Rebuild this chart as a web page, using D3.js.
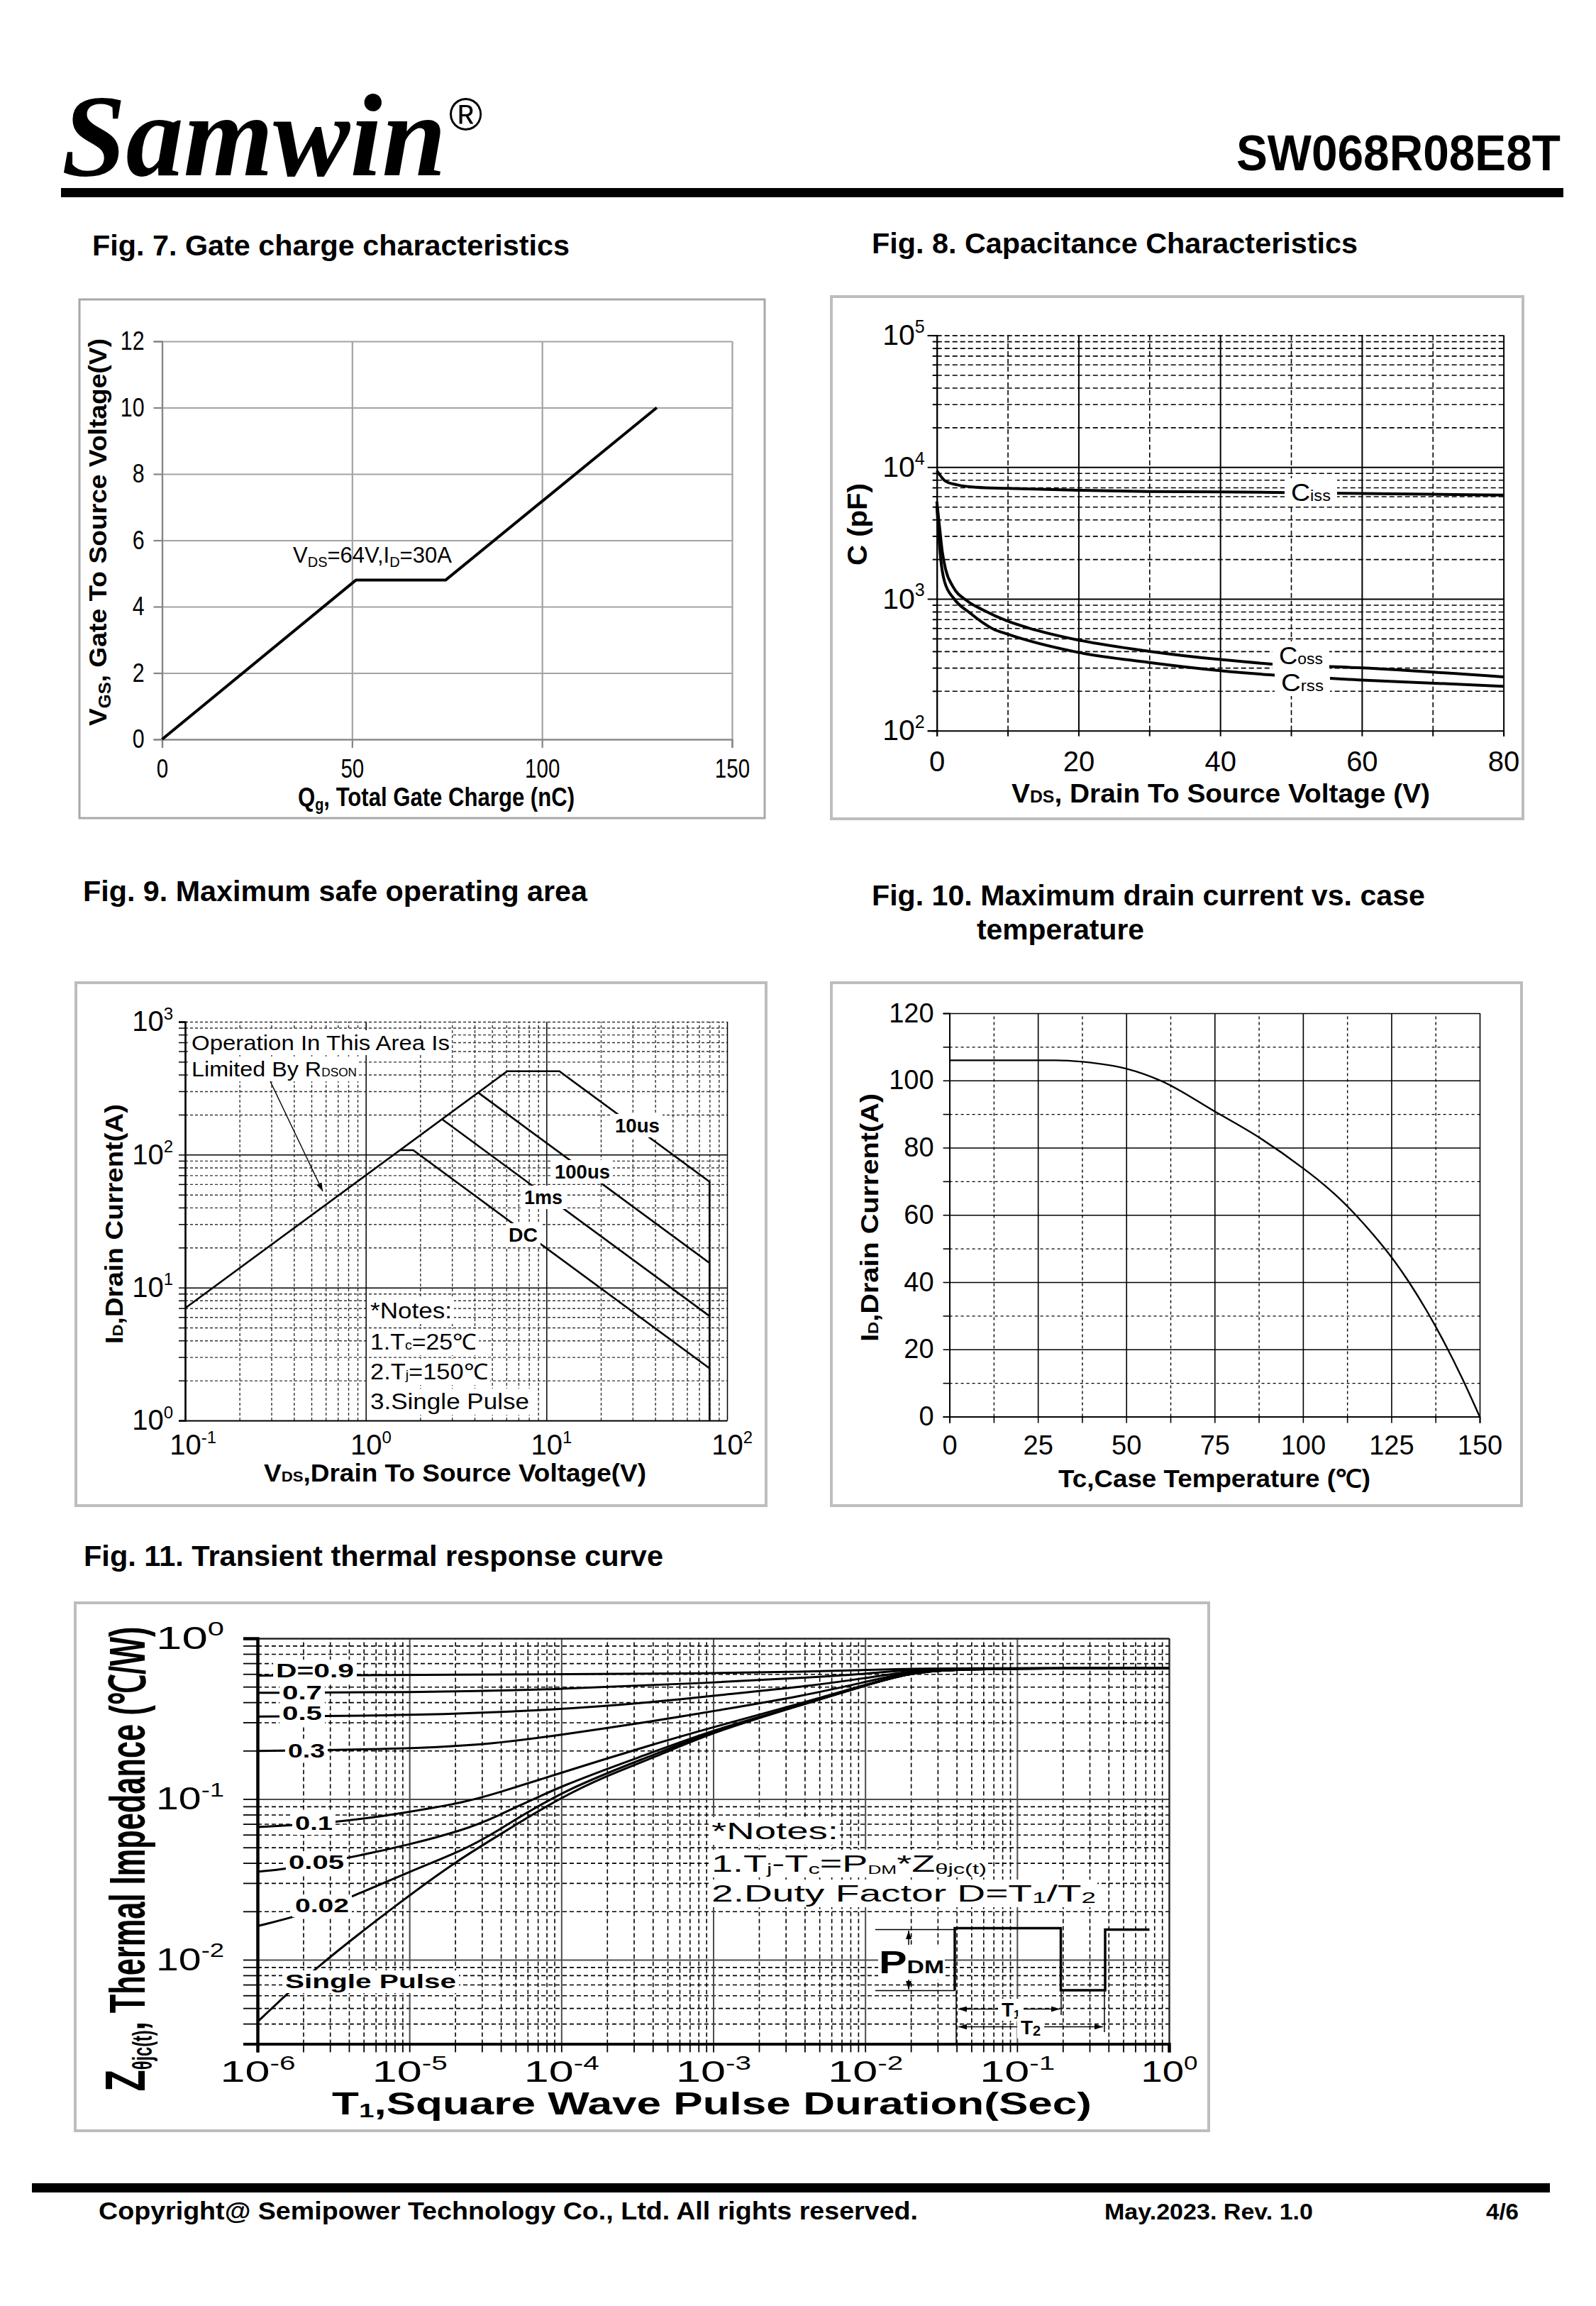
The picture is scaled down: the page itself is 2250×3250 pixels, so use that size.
<!DOCTYPE html>
<html>
<head>
<meta charset="utf-8">
<script src="https://cdn.jsdelivr.net/npm/d3@7/dist/d3.min.js"></script>
<style>
html,body{margin:0;padding:0;background:#fff;}
svg{display:block;}
text{font-family:"Liberation Sans",Arial,Helvetica,sans-serif;}
</style>
</head>
<body>
<svg id="page" width="2250" height="3250" xmlns="http://www.w3.org/2000/svg"></svg>
<script>
// ================= DATA =================
// Fig. 7 Gate charge
const qgTicks = [0, 50, 100, 150];
const vgsTicks = [0, 2, 4, 6, 8, 10, 12];
const qgValues = [0, 51, 74.6, 130.2];
const vgsValues = [0, 4.8, 4.8, 10];

// Fig. 8 Capacitance
const capVdsTicks = [0, 20, 40, 60, 80];
const capVdsMinor = [10, 30, 50, 70];
const capDecades = [100, 1000, 10000, 100000];
const cissV = [0, 1.26, 2.9, 5.6, 9.9, 19.8, 29.8, 39.8, 60, 80];
const cissC = [9400, 7800, 7330, 7035, 6890, 6670, 6530, 6490, 6300, 6140];
const cossV = [0, 0.43, 0.76, 1.27, 2.27, 4.27, 6.6, 9.88, 12.95, 19.8, 29.8, 39.8, 47, 60, 80];
const cossC = [5480, 3340, 2300, 1655, 1240, 967, 820, 681, 601, 489, 401, 347, 321, 299, 256];
const crssV = [0, 0.27, 0.54, 1.1, 2.44, 4.6, 8, 9.88, 19.8, 29.8, 39.8, 47, 60, 80];
const crssC = [5060, 3080, 2035, 1347, 1000, 787, 589, 542, 394, 330, 286, 265, 242, 217];

// Fig. 9 Safe operating area
const soaXDecades = [0.1, 1, 10, 100];
const soaYDecades = [1, 10, 100, 1000];
const soa10usV = [0.1, 6.06, 11.8, 80, 80];
const soa10usI = [7, 424, 424, 62.5, 1];
const soa100usV = [4.19, 80];
const soa100usI = [293, 15.3];
const soa1msV = [2.64, 80];
const soa1msI = [185, 6.1];
const soaDcV = [1.54, 1.83, 80];
const soaDcI = [108, 108, 2.47];

// Fig. 10 Drain current vs case temperature
const tcTicks = [0, 25, 50, 75, 100, 125, 150];
const idTicks = [0, 20, 40, 60, 80, 100, 120];
const tcValues = [0, 30, 40, 50, 60, 75, 87.5, 100, 105, 110, 115, 120, 125, 130, 135, 140, 145, 150];
const idValues = [106, 106, 105.3, 103.5, 99.8, 90.8, 83.1, 73.9, 69.8, 65.2, 59.9, 54.0, 47.5, 40.0, 31.5, 22.0, 11.5, 0];

// Fig. 11 Transient thermal response
const zthXDecades = [1e-6, 1e-5, 1e-4, 1e-3, 1e-2, 1e-1, 1];
const zthYDecades = [0.01, 0.1, 1];
const zthD09T = [1e-6, 1e-4, 1e-3, 4e-3, 1e-2, 1.85e-2, 3.5e-2, 1];
const zthD09Z = [0.586, 0.597, 0.606, 0.62, 0.635, 0.645, 0.652, 0.652];
const zthD07T = [1e-6, 1e-5, 1e-4, 1e-3, 4e-3, 1e-2, 1.85e-2, 3.5e-2, 1];
const zthD07Z = [0.458, 0.46, 0.481, 0.53, 0.569, 0.60, 0.635, 0.65, 0.652];
const zthD05T = [1e-6, 1e-5, 1e-4, 4e-4, 1e-3, 4e-3, 1e-2, 1.85e-2, 3.5e-2, 1];
const zthD05Z = [0.326, 0.33, 0.36, 0.40, 0.44, 0.50, 0.565, 0.62, 0.65, 0.652];
const zthD03T = [1e-6, 1e-5, 3.6e-5, 1e-4, 4e-4, 1e-3, 4e-3, 1e-2, 1.85e-2, 3.5e-2, 1];
const zthD03Z = [0.199, 0.205, 0.22, 0.251, 0.305, 0.352, 0.44, 0.535, 0.61, 0.65, 0.652];
const zthD01T = [1e-6, 3.3e-6, 1e-5, 2.25e-5, 3.6e-5, 1e-4, 4e-4, 1e-3, 4e-3, 1e-2, 1.85e-2, 3.5e-2, 1];
const zthD01Z = [0.067, 0.071, 0.083, 0.095, 0.107, 0.146, 0.219, 0.28, 0.40, 0.515, 0.60, 0.65, 0.652];
const zthD005T = [1e-6, 1.53e-6, 3.9e-6, 1e-5, 2.25e-5, 3.6e-5, 1e-4, 4e-4, 1e-3, 4e-3, 1e-2, 1.85e-2, 3.5e-2, 1];
const zthD005Z = [0.0353, 0.0365, 0.0428, 0.052, 0.064, 0.076, 0.122, 0.195, 0.27, 0.39, 0.51, 0.60, 0.65, 0.652];
const zthD002T = [1e-6, 1.95e-6, 4.3e-6, 1e-5, 2.25e-5, 3.6e-5, 1e-4, 4e-4, 1e-3, 4e-3, 1e-2, 1.85e-2, 3.5e-2, 1];
const zthD002Z = [0.0162, 0.0189, 0.0248, 0.0353, 0.048, 0.061, 0.113, 0.187, 0.266, 0.39, 0.51, 0.60, 0.65, 0.652];
const zthSingleT = [1e-6, 2.24e-6, 1e-5, 2.04e-5, 4e-5, 1e-4, 2e-4, 4e-4, 1e-3, 4e-3, 1e-2, 1.85e-2, 3.5e-2, 1];
const zthSingleZ = [0.0041, 0.0085, 0.0253, 0.041, 0.0607, 0.103, 0.14, 0.18, 0.262, 0.39, 0.51, 0.60, 0.65, 0.652];

// ================= HELPERS =================
const svg = d3.select('#page');
svg.append('rect').attr('width', 2250).attr('height', 3250).attr('fill', '#fff');
const defs = svg.append('defs');
defs.append('marker').attr('id', 'arr').attr('viewBox', '0 0 12 8').attr('refX', 12).attr('refY', 4)
  .attr('markerWidth', 12).attr('markerHeight', 8).attr('markerUnits', 'userSpaceOnUse')
  .attr('orient', 'auto-start-reverse')
  .append('path').attr('d', 'M0,0L12,4L0,8Z').attr('fill', '#000');

function addText(g, x, y, parts, o = {}) {
  const t = g.append('text')
    .attr('x', x).attr('y', y)
    .attr('font-size', o.size || 30)
    .attr('font-weight', o.weight || 'normal')
    .attr('text-anchor', o.anchor || 'start')
    .attr('fill', '#000');
  if (o.family) t.style('font-family', o.family);
  if (o.italic) t.attr('font-style', 'italic');
  if (o.transform) t.attr('transform', o.transform);
  if (typeof parts === 'string') parts = [[parts]];
  let cur = 0;
  parts.forEach(p => {
    const s = p[0], q = p[1] || {};
    const sp = t.append('tspan').text(s);
    if (q.size) sp.attr('font-size', q.size);
    if (q.weight) sp.attr('font-weight', q.weight);
    const want = q.dy || 0;
    if (want !== cur) { sp.attr('dy', want - cur); cur = want; }
  });
  if (o.width) t.attr('textLength', o.width).attr('lengthAdjust', 'spacingAndGlyphs');
  else if (o.sx) {
    const L = t.node().getComputedTextLength();
    t.attr('textLength', L * o.sx).attr('lengthAdjust', 'spacingAndGlyphs');
  }
  return t;
}
function whiteBehind(g, t, px = 4, py = 2) {
  const b = t.node().getBBox();
  g.insert('rect', () => t.node())
    .attr('x', b.x - px).attr('y', b.y - py)
    .attr('width', b.width + 2 * px).attr('height', b.height + 2 * py)
    .attr('fill', '#fff');
}
function frame(x, y, w, h, stroke, sw) {
  svg.append('rect').attr('x', x).attr('y', y).attr('width', w).attr('height', h)
    .attr('fill', 'none').attr('stroke', stroke).attr('stroke-width', sw);
}
function lineStyle(s, st) {
  s.selectAll('.tick line').attr('stroke', st.stroke).attr('stroke-width', st.sw)
    .attr('stroke-dasharray', st.dash || null);
}
function gridH(g, y, vals, x0, x1, st) {
  g.append('g').attr('transform', `translate(${x0},0)`)
    .call(d3.axisLeft(y).tickValues(vals).tickSize(-(x1 - x0)).tickFormat(''))
    .call(s => { s.select('.domain').remove(); lineStyle(s, st); });
}
function gridV(g, x, vals, y0, y1, st) {
  g.append('g').attr('transform', `translate(0,${y0})`)
    .call(d3.axisBottom(x).tickValues(vals).tickSize(-(y0 - y1)).tickFormat(''))
    .call(s => { s.select('.domain').remove(); lineStyle(s, st); });
}
function styleAxis(s, o) {
  s.selectAll('.tick line').attr('stroke', o.stroke || '#000').attr('stroke-width', o.sw || 2);
  const d = s.select('.domain');
  if (o.domain === false) d.remove();
  else d.attr('stroke', o.stroke || '#000').attr('stroke-width', o.dsw || o.sw || 2);
  s.selectAll('.tick text').attr('font-size', o.fs || 30).attr('fill', '#000');
  if (o.sx) s.selectAll('.tick text').each(function () {
    const L = this.getComputedTextLength();
    if (L > 0) d3.select(this).attr('textLength', L * o.sx).attr('lengthAdjust', 'spacingAndGlyphs');
  });
  return s;
}
function logLabels(s, fs, supFs, o = {}) {
  s.selectAll('.tick text').each(function (d) {
    const t = d3.select(this);
    const e = Math.round(Math.log10(d));
    t.text(null).attr('font-size', fs);
    t.append('tspan').text('10');
    t.append('tspan').text(String(e)).attr('font-size', supFs).attr('dy', -fs * 0.42);
    if (o.width) {
      const w = typeof o.width === 'function' ? o.width(e) : o.width;
      t.attr('textLength', w).attr('lengthAdjust', 'spacingAndGlyphs');
    }
    if (o.center10) {
      t.attr('text-anchor', 'start');
      const w = this.getSubStringLength(0, 2);
      t.attr('x', -w / 2);
    }
  });
}
function decadeMinors(decs) {
  const out = [];
  decs.forEach(d => { for (let m = 2; m <= 9; m++) out.push(+(m * d).toPrecision(4)); });
  return out;
}

// ================= HEADER / FOOTER =================
addText(svg, 87, 247, 'Samwin', { size: 165, weight: 'bold', italic: true, family: '"Liberation Serif","Times New Roman",serif', width: 542 });
addText(svg, 633, 183, '\u00AE', { size: 64 });
addText(svg, 2200, 240, 'SW068R08E8T', { size: 70, weight: 'bold', anchor: 'end', width: 457 });
svg.append('rect').attr('x', 86).attr('y', 265).attr('width', 2118).attr('height', 13).attr('fill', '#000');

svg.append('rect').attr('x', 45).attr('y', 3077).attr('width', 2140).attr('height', 13).attr('fill', '#000');
addText(svg, 139, 3128, 'Copyright@ Semipower Technology Co., Ltd. All rights reserved.', { size: 35, weight: 'bold', width: 1155 });
addText(svg, 1557, 3128, 'May.2023. Rev. 1.0', { size: 32, weight: 'bold', width: 294 });
addText(svg, 2095, 3128, '4/6', { size: 32, weight: 'bold', width: 46 });

addText(svg, 130, 360, 'Fig. 7. Gate charge characteristics', { size: 40, weight: 'bold', width: 673 });
addText(svg, 1229, 357, 'Fig. 8. Capacitance Characteristics', { size: 40, weight: 'bold', width: 685 });
addText(svg, 117, 1270, 'Fig. 9. Maximum safe operating area', { size: 40, weight: 'bold', width: 711 });
addText(svg, 1229, 1276, 'Fig. 10. Maximum drain current vs. case', { size: 40, weight: 'bold', width: 780 });
addText(svg, 1377, 1324, 'temperature', { size: 40, weight: 'bold', width: 236 });
addText(svg, 118, 2207, 'Fig. 11. Transient thermal response curve', { size: 40, weight: 'bold', width: 817 });

// ================= FIG 7 =================
{
  frame(112, 422, 966, 731, '#a8a8a8', 3);
  const g = svg.append('g');
  const X0 = 228.5, X1 = 1032, Y0 = 1042, Y1 = 481;
  const x = d3.scaleLinear().domain([0, 150]).range([X0, X1]);
  const y = d3.scaleLinear().domain([0, 12]).range([Y0, Y1]);
  const gs = { stroke: '#a3a3a3', sw: 2.2 };
  gridH(g, y, vgsTicks, X0, X1, gs);
  gridV(g, x, qgTicks, Y0, Y1, gs);
  styleAxis(g.append('g').attr('transform', `translate(${X0},0)`)
    .call(d3.axisLeft(y).tickValues(vgsTicks).tickSize(12).tickPadding(13)),
    { stroke: '#858585', sw: 2.2, fs: 37, sx: 0.82 });
  styleAxis(g.append('g').attr('transform', `translate(0,${Y0})`)
    .call(d3.axisBottom(x).tickValues(qgTicks).tickSize(12).tickPadding(16)),
    { stroke: '#858585', sw: 2.2, fs: 36, sx: 0.82 });
  g.append('path').datum(d3.zip(qgValues, vgsValues))
    .attr('d', d3.line().x(d => x(d[0])).y(d => y(d[1])))
    .attr('fill', 'none').attr('stroke', '#000').attr('stroke-width', 4).attr('stroke-linejoin', 'round');
  addText(g, 413, 793, [['V'], ['DS', { size: 20, dy: 6 }], ['=64V,I'], ['D', { size: 20, dy: 6 }], ['=30A']], { size: 31 });
  addText(g, 0, 0, [['V'], ['GS', { size: 24, dy: 6 }], [',  Gate To  Source Voltage(V)']],
    { size: 35, weight: 'bold', anchor: 'middle', transform: 'translate(150,750) rotate(-90)', width: 546 });
  addText(g, 420, 1136, [['Q'], ['g', { size: 23, dy: 6 }], [', Total Gate Charge (nC)']], { size: 36, weight: 'bold', width: 390 });
}

// ================= FIG 8 =================
{
  frame(1172, 418, 975, 736, '#bdbdbd', 4);
  const g = svg.append('g');
  const X0 = 1320.7, X1 = 2119.6, Y0 = 1029.7, Y1 = 472.6;
  const x = d3.scaleLinear().domain([0, 80]).range([X0, X1]);
  const y = d3.scaleLog().domain([100, 100000]).range([Y0, Y1]);
  const minorY = decadeMinors([100, 1000, 10000]).concat([100000]);
  const dash = { stroke: '#000', sw: 1.6, dash: '7,4' };
  gridH(g, y, minorY, X0, X1, dash);
  gridV(g, x, capVdsMinor, Y0, Y1, dash);
  gridH(g, y, [1000, 10000], X0, X1, { stroke: '#000', sw: 2 });
  gridV(g, x, capVdsTicks.slice(1), Y0, Y1, { stroke: '#000', sw: 2 });
  styleAxis(g.append('g').attr('transform', `translate(${X0},0)`)
    .call(d3.axisLeft(y).tickValues(minorY).tickSize(6).tickFormat('')), { sw: 2 });
  const ya = styleAxis(g.append('g').attr('transform', `translate(${X0},0)`)
    .call(d3.axisLeft(y).tickValues(capDecades).tickSize(13).tickPadding(4)), { sw: 2, fs: 41 });
  logLabels(ya, 41, 25);
  styleAxis(g.append('g').attr('transform', `translate(0,${Y0})`)
    .call(d3.axisBottom(x).tickValues(d3.range(0, 81, 10)).tickSize(8).tickPadding(21)
      .tickFormat(d => capVdsTicks.includes(d) ? String(d) : '')), { sw: 2, fs: 40 });
  const line = d3.line().x(d => x(d[0])).y(d => y(d[1])).curve(d3.curveMonotoneX);
  [[cissV, cissC], [cossV, cossC], [crssV, crssC]].forEach(([v, c]) => {
    g.append('path').datum(d3.zip(v, c)).attr('d', line)
      .attr('fill', 'none').attr('stroke', '#000').attr('stroke-width', 4);
  });
  const lab = [[1820, 706, 'iss', 56], [1803, 936, 'oss', 62], [1806, 974, 'rss', 60]];
  lab.forEach(([lx, ly, s, w]) => {
    const t = addText(g, lx, ly, [['C'], [s, { size: 22 }]], { size: 35, width: w });
    whiteBehind(g, t, 9, 0);
  });
  addText(g, 0, 0, 'C (pF)', { size: 38, weight: 'bold', anchor: 'middle', transform: 'translate(1222,739) rotate(-90)', width: 116 });
  addText(g, 1426, 1131, [['V'], ['DS', { size: 23 }], [', Drain To Source Voltage (V)']], { size: 36, weight: 'bold', width: 590 });
}

// ================= FIG 9 =================
{
  frame(107, 1385, 973, 737, '#bdbdbd', 4);
  const g = svg.append('g');
  const X0 = 261, X1 = 1025, Y0 = 2002, Y1 = 1440;
  const x = d3.scaleLog().domain([0.1, 100]).range([X0, X1]);
  const y = d3.scaleLog().domain([1, 1000]).range([Y0, Y1]);
  const minorX = decadeMinors([0.1, 1, 10]);
  const minorY = decadeMinors([1, 10, 100]).concat([1000]);
  const dash = { stroke: '#333', sw: 1.4, dash: '4,3' };
  gridH(g, y, minorY, X0, X1, dash);
  gridV(g, x, minorX, Y0, Y1, dash);
  gridH(g, y, [10, 100], X0, X1, { stroke: '#000', sw: 1.5 });
  gridV(g, x, [1, 10, 100], Y0, Y1, { stroke: '#000', sw: 1.5 });
  styleAxis(g.append('g').attr('transform', `translate(${X0},0)`)
    .call(d3.axisLeft(y).tickValues(minorY).tickSize(9).tickFormat('')), { sw: 1.5, dsw: 2.2 });
  const ya = styleAxis(g.append('g').attr('transform', `translate(${X0},0)`)
    .call(d3.axisLeft(y).tickValues(soaYDecades).tickSize(9).tickPadding(8)), { sw: 1.5, dsw: 2.2, fs: 40 });
  logLabels(ya, 40, 24);
  const xa = styleAxis(g.append('g').attr('transform', `translate(0,${Y0})`)
    .call(d3.axisBottom(x).tickValues(soaXDecades).tickSize(0).tickPadding(20)), { sw: 1.5, dsw: 2.2, fs: 40 });
  logLabels(xa, 40, 24, { center10: true });
  const line = d3.line().x(d => x(d[0])).y(d => y(d[1]));
  [[soa10usV, soa10usI], [soa100usV, soa100usI], [soa1msV, soa1msI], [soaDcV, soaDcI]].forEach(([v, i]) => {
    g.append('path').datum(d3.zip(v, i)).attr('d', line)
      .attr('fill', 'none').attr('stroke', '#000').attr('stroke-width', 2.6).attr('stroke-linejoin', 'round');
  });
  [[867, 1596, '10us', 63], [782, 1661, '100us', 78], [739, 1697, '1ms', 54], [717, 1750, 'DC', 41]].forEach(([lx, ly, s, w]) => {
    const t = addText(g, lx, ly, s, { size: 28, weight: 'bold', width: w });
    whiteBehind(g, t, 4, 1);
  });
  const o1 = addText(g, 270, 1480, 'Operation In This Area Is', { size: 30, width: 364 });
  whiteBehind(g, o1, 3, 1);
  const o2 = addText(g, 270, 1517, [['Limited By R'], ['DSON', { size: 16 }]], { size: 30, width: 233 });
  whiteBehind(g, o2, 3, 1);
  g.append('line').attr('x1', 381).attr('y1', 1524).attr('x2', 455).attr('y2', 1679)
    .attr('stroke', '#000').attr('stroke-width', 1.4).attr('marker-end', 'url(#arr)');
  const notes = [
    [1858, [['*Notes:']], 115],
    [1902, [['1.T'], ['c', { size: 18 }], ['=25\u2103']], 150],
    [1944, [['2.T'], ['j', { size: 18 }], ['=150\u2103']], 166],
    [1986, [['3.Single Pulse']], 224]
  ];
  notes.forEach(([ly, p, w]) => {
    const t = addText(g, 522, ly, p, { size: 31, width: w });
    whiteBehind(g, t, 3, 1);
  });
  addText(g, 0, 0, [['I'], ['D', { size: 21 }], [',Drain Current(A)']],
    { size: 35, weight: 'bold', anchor: 'middle', transform: 'translate(173,1725) rotate(-90)', width: 338 });
  addText(g, 372, 2088, [['V'], ['DS', { size: 21 }], [',Drain To Source Voltage(V)']], { size: 35, weight: 'bold', width: 539 });
}

// ================= FIG 10 =================
{
  frame(1172, 1385, 973, 737, '#bdbdbd', 4);
  const g = svg.append('g');
  const X0 = 1338.6, X1 = 2086, Y0 = 1996.5, Y1 = 1428;
  const x = d3.scaleLinear().domain([0, 150]).range([X0, X1]);
  const y = d3.scaleLinear().domain([0, 120]).range([Y0, Y1]);
  const minorX = tcTicks.slice(0, -1).map(d => d + 12.5);
  const minorY = idTicks.slice(0, -1).map(d => d + 10);
  const dash = { stroke: '#000', sw: 1.4, dash: '4,4' };
  gridH(g, y, minorY, X0, X1, dash);
  gridV(g, x, minorX, Y0, Y1, dash);
  gridH(g, y, idTicks, X0, X1, { stroke: '#000', sw: 1.6 });
  gridV(g, x, tcTicks, Y0, Y1, { stroke: '#000', sw: 1.6 });
  styleAxis(g.append('g').attr('transform', `translate(${X0},0)`)
    .call(d3.axisLeft(y).tickValues(minorY).tickSize(9).tickFormat('')), { sw: 1.6 });
  styleAxis(g.append('g').attr('transform', `translate(${X0},0)`)
    .call(d3.axisLeft(y).tickValues(idTicks).tickSize(9).tickPadding(13)), { sw: 1.6, fs: 38 });
  styleAxis(g.append('g').attr('transform', `translate(0,${Y0})`)
    .call(d3.axisBottom(x).tickValues(minorX).tickSize(9).tickFormat('')), { sw: 1.6 });
  styleAxis(g.append('g').attr('transform', `translate(0,${Y0})`)
    .call(d3.axisBottom(x).tickValues(tcTicks).tickSize(9).tickPadding(18)), { sw: 1.6, fs: 38 });
  g.append('path').datum(d3.zip(tcValues, idValues))
    .attr('d', d3.line().x(d => x(d[0])).y(d => y(d[1])).curve(d3.curveMonotoneX))
    .attr('fill', 'none').attr('stroke', '#000').attr('stroke-width', 2.4);
  addText(g, 0, 0, [['I'], ['D', { size: 21 }], [',Drain Current(A)']],
    { size: 35, weight: 'bold', anchor: 'middle', transform: 'translate(1238,1716) rotate(-90)', width: 350 });
  addText(g, 1492, 2096, 'Tc,Case Temperature (\u2103)', { size: 35, weight: 'bold', width: 440 });
}

// ================= FIG 11 =================
{
  frame(106, 2259, 1598, 744, '#bdbdbd', 4);
  const g = svg.append('g');
  const X0 = 363, X1 = 1648, Y0 = 2880.4, Y1 = 2309;
  const x = d3.scaleLog().domain([1e-6, 1]).range([X0, X1]);
  const y = d3.scaleLog().domain([0.003, 1]).range([Y0, Y1]);
  const minorX = decadeMinors([1e-6, 1e-5, 1e-4, 1e-3, 1e-2, 1e-1]);
  const minorY = [0.004, 0.005, 0.006, 0.007, 0.008, 0.009].concat(decadeMinors([0.01, 0.1]));
  const dash = { stroke: '#000', sw: 1.6, dash: '6,4' };
  gridH(g, y, minorY, X0, X1, dash);
  gridV(g, x, minorX, Y0, Y1, dash);
  gridH(g, y, [0.01, 0.1], X0, X1, { stroke: '#4d4d4d', sw: 2 });
  gridV(g, x, zthXDecades.slice(1, -1), Y0, Y1, { stroke: '#4d4d4d', sw: 2 });
  gridH(g, y, [1], X0, X1, { stroke: '#222', sw: 2.4 });
  gridV(g, x, [1], Y0, Y1, { stroke: '#222', sw: 2.4 });
  styleAxis(g.append('g').attr('transform', `translate(${X0},0)`)
    .call(d3.axisLeft(y).tickValues(minorY).tickSize(20).tickFormat('')), { sw: 1.8, dsw: 4 });
  const ya = styleAxis(g.append('g').attr('transform', `translate(${X0},0)`)
    .call(d3.axisLeft(y).tickValues(zthYDecades).tickSize(20).tickPadding(27)), { sw: 1.8, dsw: 4, fs: 44 });
  logLabels(ya, 44, 28, { width: 96 });
  styleAxis(g.append('g').attr('transform', `translate(0,${Y0})`)
    .call(d3.axisBottom(x).tickValues(minorX).tickSize(12).tickFormat('')), { sw: 1.8, dsw: 4 });
  const xa = styleAxis(g.append('g').attr('transform', `translate(0,${Y0})`)
    .call(d3.axisBottom(x).tickValues(zthXDecades).tickSize(12).tickPadding(12)), { sw: 1.8, dsw: 4, fs: 42 });
  logLabels(xa, 42, 27, { width: e => e === 0 ? 80 : 106 });

  const line = d3.line().x(d => x(d[0])).y(d => y(d[1])).curve(d3.curveBasis);
  [[zthD09T, zthD09Z], [zthD07T, zthD07Z], [zthD05T, zthD05Z], [zthD03T, zthD03Z], [zthD01T, zthD01Z],
   [zthD005T, zthD005Z], [zthD002T, zthD002Z], [zthSingleT, zthSingleZ]].forEach(([t, z]) => {
    g.append('path').datum(d3.zip(t, z)).attr('d', line)
      .attr('fill', 'none').attr('stroke', '#000').attr('stroke-width', 3);
  });
  [[389, 2364, 'D=0.9', 110], [398, 2395, '0.7', 56], [398, 2424, '0.5', 56], [406, 2477, '0.3', 52],
   [416, 2579, '0.1', 53], [407, 2634, '0.05', 78], [416, 2695, '0.02', 76], [402, 2802, 'Single Pulse', 241]]
    .forEach(([lx, ly, s, w]) => {
      const t = addText(g, lx, ly, s, { size: 27, weight: 'bold', width: w });
      whiteBehind(g, t, 4, 1);
    });
  const nts = [
    [2592, [['*Notes:']], 179],
    [2638, [['1.T'], ['j', { size: 20, dy: 3 }], ['-T'], ['c', { size: 20, dy: 3 }], ['=P'], ['DM', { size: 16, dy: 3 }], ['*Z'], ['\u03B8jc(t)', { size: 20, dy: 3 }]], 388],
    [2680, [['2.Duty Factor D=T'], ['1', { size: 22, dy: 2 }], ['/T'], ['2', { size: 22, dy: 2 }]], 542]
  ];
  nts.forEach(([ly, p, w]) => {
    const t = addText(g, 1003, ly, p, { size: 33, width: w });
    whiteBehind(g, t, 2, 1);
  });
  // pulse schematic
  const pd = g.append('g').attr('fill', 'none').attr('stroke', '#000');
  pd.append('line').attr('x1', 1234).attr('x2', 1346).attr('y1', 2719.4).attr('y2', 2719.4).attr('stroke-width', 1.5);
  pd.append('line').attr('x1', 1234).attr('x2', 1346).attr('y1', 2805.5).attr('y2', 2805.5).attr('stroke-width', 1.5);
  pd.append('line').attr('x1', 1348).attr('x2', 1348).attr('y1', 2806).attr('y2', 2880).attr('stroke-width', 1.5);
  pd.append('line').attr('x1', 1496).attr('x2', 1496).attr('y1', 2806).attr('y2', 2840).attr('stroke-width', 1.5);
  pd.append('line').attr('x1', 1557).attr('x2', 1557).attr('y1', 2806).attr('y2', 2864).attr('stroke-width', 1.5);
  pd.append('path').attr('d', 'M1346,2805.5V2717.5H1495.5V2805H1558V2719.4H1620.5').attr('stroke-width', 3.5);
  pd.append('line').attr('x1', 1281).attr('x2', 1281).attr('y1', 2721).attr('y2', 2804).attr('stroke-width', 1.5)
    .attr('marker-start', 'url(#arr)').attr('marker-end', 'url(#arr)');
  pd.append('line').attr('x1', 1351).attr('x2', 1494).attr('y1', 2831.5).attr('y2', 2831.5).attr('stroke-width', 1.5)
    .attr('marker-start', 'url(#arr)').attr('marker-end', 'url(#arr)');
  pd.append('line').attr('x1', 1351).attr('x2', 1555).attr('y1', 2856.4).attr('y2', 2856.4).attr('stroke-width', 1.5)
    .attr('marker-start', 'url(#arr)').attr('marker-end', 'url(#arr)');
  const pdm = addText(g, 1239, 2781, [['P'], ['DM', { size: 25 }]], { size: 44, weight: 'bold', width: 92 });
  whiteBehind(g, pdm, 1, 0);
  const t1 = addText(g, 1425, 2842, [['T'], ['1', { size: 16, dy: 3 }]], { size: 28, weight: 'bold', anchor: 'middle' });
  whiteBehind(g, t1, 5, 0);
  const t2 = addText(g, 1453, 2867, [['T'], ['2', { size: 20, dy: 2 }]], { size: 28, weight: 'bold', anchor: 'middle' });
  whiteBehind(g, t2, 5, 0);

  addText(g, 0, 0, [['Z', { size: 80 }], ['\u03B8jc(t)', { size: 38, dy: 10 }], [',  Thermal  Impedance (\u2103/W)']],
    { size: 70, weight: 'bold', anchor: 'middle', transform: 'translate(204,2620) rotate(-90)', width: 655 });
  addText(g, 468, 2980, [['T'], ['1', { size: 28, dy: 4 }], [',Square Wave Pulse Duration(Sec)']], { size: 45, weight: 'bold', width: 1071 });
}
</script>
</body>
</html>
